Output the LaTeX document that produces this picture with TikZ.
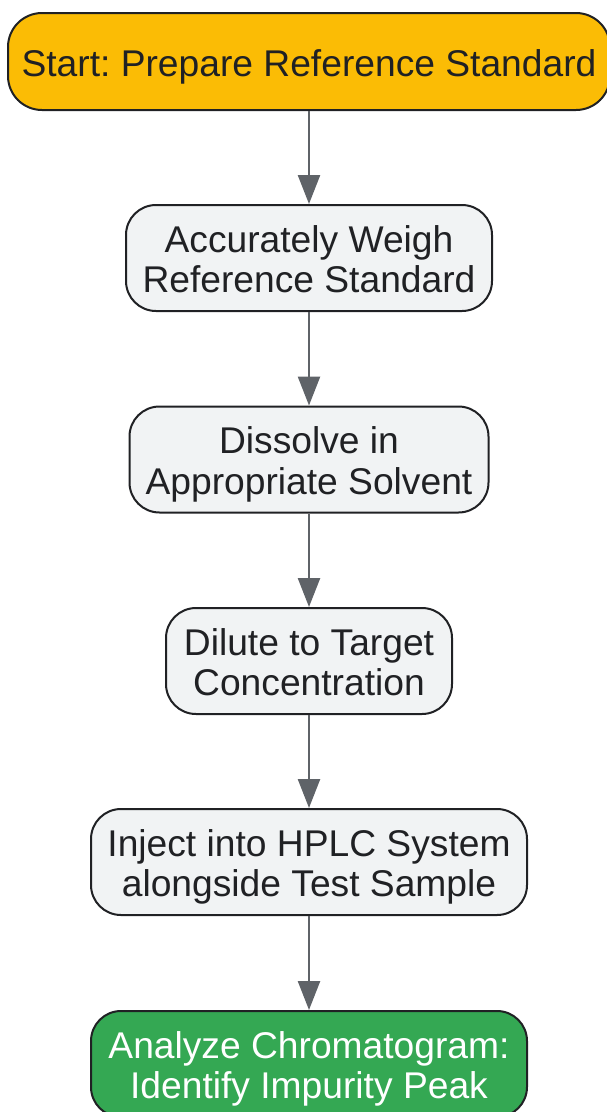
\documentclass[tikz,border=0pt]{standalone}
\usepackage{fontspec}
\setmainfont{Liberation Sans}
\usepackage{xcolor}
\usetikzlibrary{arrows.meta,positioning}
\frenchspacing

\definecolor{startyellow}{HTML}{FBBC05}
\definecolor{stepgray}{HTML}{F1F3F4}
\definecolor{endgreen}{HTML}{34A853}
\definecolor{edgedark}{HTML}{202124}
\definecolor{arrowgray}{HTML}{5F6368}

% box font, and a line strut so every text line gets the same height and depth
\newcommand{\boxfont}{\fontsize{37.2}{40.5}\selectfont\lineskiplimit=-100pt\relax}
\newcommand{\ls}{\rule[-8pt]{0pt}{45.4pt}}

\tikzset{
  box/.style={draw=edgedark, line width=2pt, rounded corners=30pt, align=center,
    inner sep=0pt, minimum height=106pt, text=edgedark, font=\boxfont},
  startbox/.style={box, fill=startyellow, minimum height=97pt, rounded corners=34pt},
  stepbox/.style={box, fill=stepgray},
  endbox/.style={box, fill=endgreen, text=white},
  flow/.style={draw=arrowgray, line width=2.5pt, -{Triangle[length=29pt,width=22pt]}}
}

\begin{document}
\begin{tikzpicture}[x=1pt,y=1pt]
            \useasboundingbox (0,0) rectangle (606,-1112);

            \node[startbox, minimum width=602pt] (start) at (309,-61.5) {\ls Start: Prepare Reference Standard};
            \node[stepbox, minimum width=366pt] (weigh) at (309,-258) {\ls Accurately Weigh\\\ls Reference Standard};
            \node[stepbox, minimum width=359pt] (dissolve) at (309,-459.5) {\ls Dissolve in\\\ls Appropriate Solvent};
            \node[stepbox, minimum width=286pt] (dilute) at (309,-661) {\ls Dilute to Target\\\ls Concentration};
            \node[stepbox, minimum width=436pt] (inject) at (309,-862) {\ls Inject into HPLC System\\\ls alongside Test Sample};
            \node[endbox, minimum width=436pt] (analyze) at (309,-1064) {\ls Analyze Chromatogram:\\\ls Identify Impurity Peak};

            % top to bottom
            \draw[flow] (start) -- (weigh);
            \draw[flow] (weigh) -- (dissolve);
            \draw[flow] (dissolve) -- (dilute);
            \draw[flow] (dilute) -- (inject);
            \draw[flow] (inject) -- (analyze);
        \end{tikzpicture}
\end{document}
